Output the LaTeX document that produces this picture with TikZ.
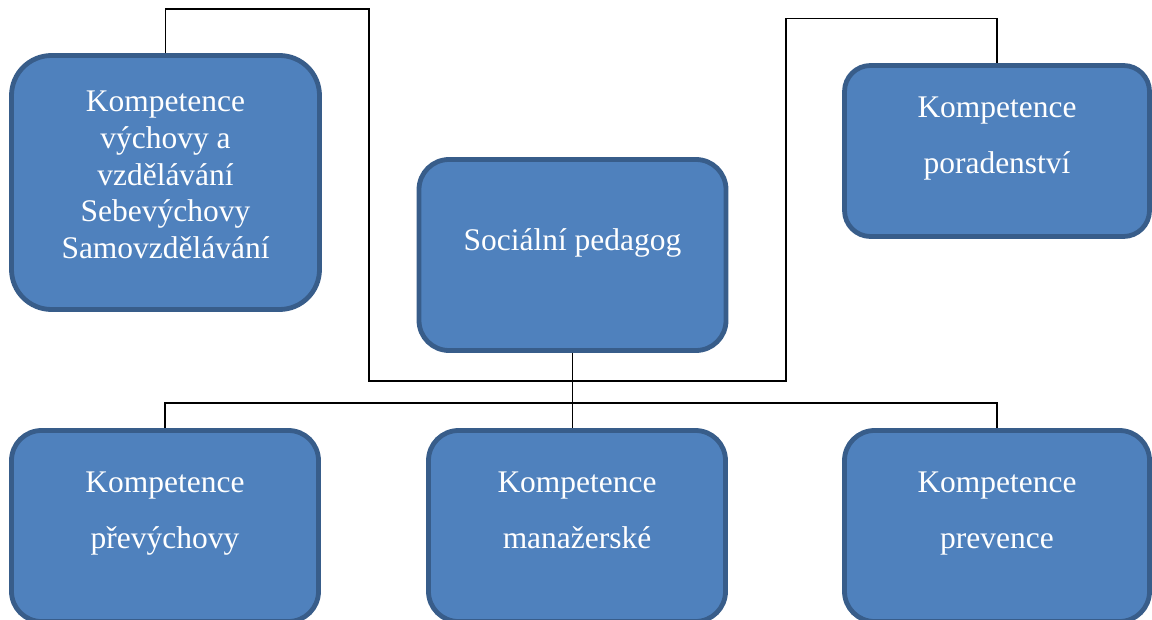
\documentclass[tikz,border=0pt]{standalone}
\usepackage{fontspec}
\setmainfont{Liberation Serif}
\definecolor{boxfill}{HTML}{4F81BD}
\definecolor{boxline}{HTML}{385D8A}
\newcommand\boxtext[1]{\vtop{\halign{\hfil##\hfil\cr#1\crcr}}}
\tikzset{
  cbox/.style={draw=boxline, fill=boxfill, line width=3.6pt, inner sep=0pt,
    text=white, font=\fontsize{23.6}{27.5}\selectfont},
  widebox/.style={cbox, font=\fontsize{23.6}{42}\selectfont},
  conn/.style={draw=black, line width=1pt}
}
\begin{document}
\begin{tikzpicture}[x=0.75pt,y=-0.75pt]
\useasboundingbox (0,0) rectangle (1152,620);
\clip (0,0) rectangle (1152,620);
% connectors (drawn first, behind boxes)
\coordinate (lt) at (369,9);
\coordinate (lb) at (369,381);
\coordinate (rb) at (786,381);
\coordinate (rt) at (786,18.5);
\coordinate (bus) at (573,403);
% boxes
\node[cbox, rounded corners=30pt, minimum width=231pt, minimum height=190.5pt,
  text height=42.15pt, text depth=148.35pt] (tl) at (165.5,182.5)
  {\boxtext{Kompetence\cr výchovy a\cr vzdělávání\cr Sebevýchovy\cr Samovzdělávání}};
\node[widebox, rounded corners=19.5pt, minimum width=228.75pt, minimum height=128.25pt,
  text height=38.85pt, text depth=89.4pt] (tr) at (997,151)
  {\boxtext{Kompetence\cr poradenství}};
\node[widebox, rounded corners=22.5pt, minimum width=230.25pt, minimum height=143.25pt,
  text height=67.9pt, text depth=75.35pt] (ctr) at (572.5,255)
  {\boxtext{Sociální pedagog}};
\node[widebox, rounded corners=22.5pt, minimum width=230.25pt, minimum height=143.25pt,
  text height=46.35pt, text depth=96.9pt] (bl) at (165,526)
  {\boxtext{Kompetence\cr převýchovy}};
\node[widebox, rounded corners=22.5pt, minimum width=222.75pt, minimum height=143.25pt,
  text height=46.35pt, text depth=96.9pt] (bm) at (577,526)
  {\boxtext{Kompetence\cr manažerské}};
\node[widebox, rounded corners=22.5pt, minimum width=228.75pt, minimum height=143.25pt,
  text height=46.35pt, text depth=96.9pt] (br) at (997,526)
  {\boxtext{Kompetence\cr prevence}};
% connectors
\draw[conn] (tl.north) |- (lt) -- (lb) -- (rb) -- (rt) -| (tr.north);
\draw[conn] (ctr.south) -- (ctr.south |- bm.north);
\draw[conn] (bl.north) -- (bl.north |- bus) -- (br.north |- bus) -- (br.north);
\end{tikzpicture}
\end{document}
